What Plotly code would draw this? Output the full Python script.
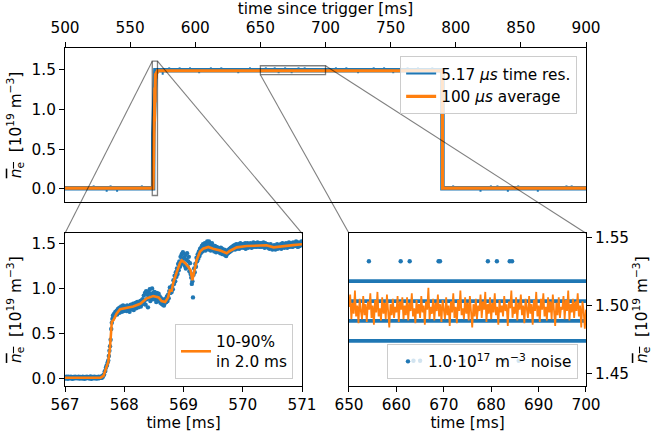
import numpy as np
import plotly.graph_objects as go

BLUE = "#1f77b4"
ORANGE = "#ff7f0e"
FONT = "DejaVu Sans"
FS = 15.3

# ---------------- data ----------------
# 100 us average during the density rise (ms, 1e19 m^-3)
rise_avg_t = [567.00, 567.60, 567.65, 567.70, 567.73, 567.76, 567.79, 567.82, 567.87, 567.93,
              568.04, 568.15, 568.27, 568.38, 568.49, 568.58, 568.63, 568.69, 568.74, 568.77,
              568.80, 568.83, 568.88, 568.94, 568.97, 569.03, 569.08, 569.12, 569.15, 569.18,
              569.22, 569.28, 569.33, 569.42, 569.50, 569.62, 569.73, 569.78, 569.90, 570.07,
              570.29, 570.40, 570.52, 570.68, 570.85, 571.00]
rise_avg_v = [0.010, 0.010, 0.030, 0.130, 0.185, 0.350, 0.630, 0.650, 0.720, 0.770,
              0.785, 0.800, 0.830, 0.890, 0.915, 0.900, 0.860, 0.850, 0.900, 0.980,
              0.975, 1.070, 1.170, 1.280, 1.310, 1.280, 1.240, 1.200, 1.090, 1.190,
              1.310, 1.410, 1.440, 1.460, 1.440, 1.420, 1.390, 1.415, 1.455, 1.470,
              1.480, 1.478, 1.455, 1.470, 1.480, 1.490]

# raw 5.17 us samples during the rise (read every 0.01 ms, 567.00 ... 571.00)
rise_raw_v = [
    0.017, 0.0, 0.014, 0.022, 0.005, -0.002, 0.02, 0.008, 0.016, 0.002,
    0.021, 0.004, 0.011, -0.001, 0.018, 0.012, 0.003, 0.022, 0.006, 0.015,
    0.019, 0.002, 0.012, 0.02, 0.007, 0.0, 0.018, 0.01, 0.015, 0.001,
    0.022, 0.006, 0.013, -0.002, 0.017, 0.011, 0.004, 0.021, 0.008, 0.014,
    0.016, 0.001, 0.013, 0.023, 0.004, -0.001, 0.019, 0.009, 0.017, 0.003,
    0.02, 0.005, 0.012, 0.0, 0.019, 0.013, 0.002, 0.021, 0.007, 0.016,
    0.012,
    0.02, 0.008, 0.03, 0.02, 0.04, 0.045, 0.08, 0.085, 0.12, 0.14,
    0.15, 0.18, 0.2, 0.25, 0.31, 0.36, 0.43, 0.55, 0.62, 0.66,
    0.70, 0.68, 0.72, 0.70, 0.74, 0.73, 0.75, 0.71, 0.77, 0.74,
    0.78, 0.73, 0.79, 0.76, 0.80, 0.74, 0.77, 0.81, 0.75, 0.79,
    0.76, 0.80, 0.77, 0.75, 0.81, 0.78, 0.76, 0.80, 0.74, 0.79,
    0.82, 0.77, 0.80, 0.78, 0.83, 0.76, 0.81, 0.79, 0.84, 0.78,
    0.80, 0.85, 0.82, 0.79, 0.84, 0.81, 0.86, 0.80, 0.83, 0.87,
    0.88, 0.83, 0.92, 0.86, 0.95, 0.82, 0.97, 0.88, 0.93, 0.79,
    0.96, 0.90, 0.99, 0.86, 0.94, 0.91, 1.00, 0.88, 0.95, 0.92,
    0.96, 0.88, 0.93, 0.85, 0.95, 0.90, 0.87, 0.94, 0.86, 0.91,
    0.84, 0.89, 0.83, 0.87, 0.82, 0.86, 0.81, 0.88, 0.84, 0.87,
    0.85, 0.91, 0.86, 0.93, 0.89, 0.97, 1.01, 0.95, 1.00, 0.96,
    1.03, 0.99, 1.09, 1.05, 1.14, 1.08, 1.18, 1.13, 1.22, 1.16,
    1.27, 1.20, 1.30, 1.24, 1.35, 1.27, 1.38, 1.33, 1.40, 1.29,
    1.34, 1.25, 1.37, 1.22, 1.32, 1.39, 1.24, 1.30, 1.35, 1.19,
    1.28, 1.16, 1.12, 1.05, 1.08, 0.90, 1.15, 1.22, 1.18, 1.27,
    1.24, 1.34, 1.30, 1.38, 1.33, 1.41, 1.36, 1.44, 1.39, 1.45,
    1.47, 1.41, 1.49, 1.43, 1.46, 1.50, 1.42, 1.48, 1.44, 1.52,
    1.48, 1.43, 1.52, 1.46, 1.49, 1.42, 1.47, 1.50, 1.43, 1.46,
    1.46, 1.41, 1.47, 1.44, 1.40, 1.46, 1.42, 1.45, 1.41, 1.44,
    1.43, 1.39, 1.45, 1.41, 1.44, 1.38, 1.42, 1.40, 1.43, 1.37,
    1.41, 1.36, 1.38, 1.42, 1.39, 1.43, 1.40, 1.44, 1.41, 1.45,
    1.42, 1.46, 1.43, 1.47, 1.44, 1.48, 1.43, 1.46, 1.49, 1.44,
    1.48, 1.45, 1.49, 1.44, 1.47, 1.50, 1.45, 1.48, 1.46, 1.49,
    1.45, 1.49, 1.47, 1.50, 1.44, 1.48, 1.46, 1.50, 1.45, 1.48,
    1.49, 1.46, 1.50, 1.47, 1.45, 1.49, 1.48, 1.51, 1.46, 1.49,
    1.47, 1.50, 1.46, 1.49, 1.51, 1.47, 1.49, 1.46, 1.50, 1.48,
    1.50, 1.46, 1.49, 1.47, 1.51, 1.48, 1.45, 1.50, 1.47, 1.49,
    1.46, 1.49, 1.45, 1.48, 1.44, 1.47, 1.49, 1.45, 1.46, 1.43,
    1.47, 1.44, 1.48, 1.45, 1.43, 1.47, 1.46, 1.49, 1.44, 1.47,
    1.45, 1.48, 1.46, 1.49, 1.44, 1.47, 1.50, 1.46, 1.48, 1.45,
    1.49, 1.46, 1.50, 1.47, 1.45, 1.49, 1.48, 1.51, 1.46, 1.48,
    1.50, 1.47, 1.49, 1.46, 1.51, 1.48, 1.50, 1.47, 1.49, 1.52,
    1.48, 1.50, 1.46, 1.51, 1.49, 1.47, 1.50, 1.48, 1.52, 1.49,
]

# full discharge: plateau / termination of the 100 us average
end_avg_t = [789.7, 789.9, 900.0]
end_avg_v = [1.490, 0.010, 0.010]

# full discharge: raw signal envelope centre and isolated excursions
raw_band_t = [500.0, 567.65, 567.80, 569.40, 789.80, 789.80, 900.0]
raw_band_v = [0.008, 0.008, 0.700, 1.498, 1.498, 0.008, 0.008]
spike_t = [522, 532, 535, 540, 559,
           575, 580, 588, 596, 603, 612, 620, 633, 642, 654.2, 661, 664, 669, 674,
           679.3, 684, 708, 716, 725, 737, 745, 752, 763, 771, 782,
           798, 819, 827, 832, 840, 848, 863, 885, 889]
spike_v = [0.045, -0.035, 0.045, -0.035, 0.045,
           1.440, 1.533, 1.533, 1.533, 1.459, 1.533, 1.533, 1.459, 1.533, 1.533, 1.533, 1.459, 1.533, 1.459,
           1.533, 1.533, 1.533, 1.533, 1.459, 1.533, 1.533, 1.459, 1.533, 1.533, 1.533,
           0.045, -0.035, 0.045, 0.045, -0.035, 0.045, -0.035, 0.045, 0.045]

# flat top: 100 us average (every 0.25 ms, 650 ... 700)
flat_avg_v = [
    1.499, 1.508, 1.490, 1.502, 1.494, 1.511, 1.492, 1.500, 1.487, 1.505,
    1.496, 1.490, 1.507, 1.493, 1.501, 1.488, 1.503, 1.497, 1.509, 1.491,
    1.500, 1.486, 1.504, 1.495, 1.510, 1.492, 1.498, 1.489, 1.506, 1.494,
    1.502, 1.490, 1.508, 1.496, 1.484, 1.501, 1.493, 1.505, 1.491, 1.499,
    1.495, 1.507, 1.488, 1.503, 1.497, 1.506, 1.490, 1.500, 1.493, 1.506,
    1.489, 1.502, 1.496, 1.509, 1.492, 1.498, 1.487, 1.504, 1.494, 1.501,
    1.491, 1.507, 1.495, 1.500, 1.486, 1.503, 1.497, 1.513, 1.490, 1.499,
    1.494, 1.505, 1.489, 1.502, 1.496, 1.508, 1.492, 1.501, 1.488, 1.504,
    1.497, 1.490, 1.506, 1.493, 1.500, 1.485, 1.503, 1.495, 1.509, 1.491,
    1.499, 1.487, 1.504, 1.496, 1.511, 1.493, 1.498, 1.490, 1.506, 1.494,
    1.502, 1.489, 1.507, 1.495, 1.484, 1.501, 1.492, 1.505, 1.490, 1.500,
    1.496, 1.508, 1.491, 1.503, 1.497, 1.510, 1.488, 1.501, 1.494, 1.506,
    1.490, 1.502, 1.495, 1.509, 1.493, 1.499, 1.486, 1.504, 1.495, 1.500,
    1.492, 1.507, 1.496, 1.501, 1.485, 1.503, 1.498, 1.511, 1.491, 1.499,
    1.494, 1.506, 1.489, 1.502, 1.497, 1.508, 1.493, 1.500, 1.487, 1.505,
    1.498, 1.491, 1.507, 1.494, 1.501, 1.486, 1.504, 1.496, 1.510, 1.492,
    1.500, 1.488, 1.505, 1.497, 1.509, 1.492, 1.499, 1.489, 1.506, 1.495,
    1.503, 1.490, 1.508, 1.494, 1.485, 1.502, 1.493, 1.506, 1.491, 1.499,
    1.497, 1.507, 1.490, 1.504, 1.496, 1.511, 1.489, 1.501, 1.495, 1.505,
    1.491, 1.503, 1.496, 1.509, 1.492, 1.500, 1.484, 1.503, 1.496, 1.483,
    1.497,
]
# flat top: raw signal digitiser levels and isolated samples
noise_levels = [1.4741, 1.4887, 1.5033, 1.5179]
outlier_t = [654.2, 660.9, 662.8, 668.9, 669.2, 679.3, 681.2, 683.9, 684.4,
             663.6, 665.0, 674.1, 682.6, 685.8]
outlier_v = [1.5325] * 9 + [1.4595] * 5

# ---------------- layout geometry ----------------
X1R, Y1R = [500, 900], [-0.164, 1.777]
X2R, Y2R = [567, 571], [-0.082, 1.611]
X3R, Y3R = [650, 700], [1.441, 1.553]
XD1, YD1 = [0.0, 1.0], [0.5444, 1.0]
XD2, YD2 = [0.0, 0.4549], [0.0, 0.4518]
XD3, YD3 = [0.5451, 1.0], [0.0, 0.4518]


def to_paper(x, y, xr, yr, xd, yd):
    px = xd[0] + (x - xr[0]) / (xr[1] - xr[0]) * (xd[1] - xd[0])
    py = yd[0] + (y - yr[0]) / (yr[1] - yr[0]) * (yd[1] - yd[0])
    return px, py


fig = go.Figure()

# ---- top panel ----
fig.add_trace(go.Scatter(x=raw_band_t, y=raw_band_v, mode="lines",
                         line=dict(color=BLUE, width=4.5), showlegend=False,
                         xaxis="x", yaxis="y", hoverinfo="skip"))
band_base = np.interp(spike_t, raw_band_t, raw_band_v)
sx, sy = [], []
for t, b, v in zip(spike_t, band_base, spike_v):
    sx += [t, t, None]
    sy += [b, v, None]
fig.add_trace(go.Scatter(x=sx, y=sy, mode="lines", line=dict(color=BLUE, width=2.0),
                         name="5.17 <i>μs</i> time res.", xaxis="x", yaxis="y",
                         legend="legend"))
top_t = [500.0] + rise_avg_t + end_avg_t
top_v = [0.010] + rise_avg_v + end_avg_v
fig.add_trace(go.Scatter(x=top_t, y=top_v, mode="lines",
                         line=dict(color=ORANGE, width=3.2),
                         name="100 <i>μs</i> average", xaxis="x", yaxis="y",
                         legend="legend"))

# ---- bottom-left inset ----
rise_raw_t = np.linspace(X2R[0], X2R[1], len(rise_raw_v))
fig.add_trace(go.Scatter(x=rise_raw_t, y=rise_raw_v, mode="markers",
                         marker=dict(color=BLUE, size=4.4, line=dict(width=0)),
                         showlegend=False, xaxis="x2", yaxis="y2"))
fig.add_trace(go.Scatter(x=rise_avg_t, y=rise_avg_v, mode="lines",
                         line=dict(color=ORANGE, width=2.6),
                         name="10-90%<br>in 2.0 ms", xaxis="x2", yaxis="y2",
                         legend="legend2"))

# ---- bottom-right inset ----
lx, ly = [], []
for lv in noise_levels:
    lx += [X3R[0] - 1, X3R[1] + 1, None]
    ly += [lv, lv, None]
fig.add_trace(go.Scatter(x=lx, y=ly, mode="lines", line=dict(color=BLUE, width=3.8),
                         showlegend=False, xaxis="x3", yaxis="y3", hoverinfo="skip"))
fig.add_trace(go.Scatter(x=outlier_t, y=outlier_v, mode="markers",
                         marker=dict(color=BLUE, size=4.4, line=dict(width=0)),
                         name="1.0·10<sup>17</sup> m<sup>−3</sup> noise",
                         xaxis="x3", yaxis="y3", legend="legend3"))
flat_t = np.linspace(X3R[0], X3R[1], len(flat_avg_v))
fig.add_trace(go.Scatter(x=flat_t, y=flat_avg_v, mode="lines",
                         line=dict(color=ORANGE, width=1.8), showlegend=False,
                         xaxis="x3", yaxis="y3"))

# ---- zoom indicators and connectors ----
GRAY = "rgba(0,0,0,0.5)"
shapes = []
for xr, yr in [(X2R, Y2R), (X3R, Y3R)]:
    shapes.append(dict(type="rect", xref="x", yref="y", x0=xr[0], x1=xr[1],
                       y0=yr[0], y1=yr[1], line=dict(color=GRAY, width=1.3),
                       fillcolor="rgba(0,0,0,0)", layer="above"))
conn = [
    ((X2R[0], Y2R[1]), (XD2[0], YD2[1])),
    ((X2R[1], Y2R[1]), (XD2[1], YD2[1])),
    ((X3R[0], Y3R[0]), (XD3[0], YD3[1])),
    ((X3R[1], Y3R[1]), (XD3[1], YD3[1])),
]
for (dx, dy), (qx, qy) in conn:
    px, py = to_paper(dx, dy, X1R, Y1R, XD1, YD1)
    shapes.append(dict(type="line", xref="paper", yref="paper", x0=px, y0=py,
                       x1=qx, y1=qy, line=dict(color=GRAY, width=1.1), layer="above"))

ylab = ("<span style='text-decoration:overline'><i>n</i><sub>e</sub></span>"
        "  [10<sup>19</sup> m<sup>−3</sup>]")

axis_common = dict(showline=True, mirror=True, linecolor="black", linewidth=1,
                   ticks="outside", ticklen=5, tickwidth=1, tickcolor="black",
                   showgrid=False, zeroline=False, automargin=False,
                   tickfont=dict(family=FONT, size=FS, color="black"))

legend_common = dict(bgcolor="rgba(255,255,255,0.8)", bordercolor="#cccccc",
                     borderwidth=1, font=dict(family=FONT, size=FS, color="black"))

fig.update_layout(
    width=653, height=443,
    margin=dict(l=65, r=67, t=48, b=57),
    paper_bgcolor="white", plot_bgcolor="white",
    font=dict(family=FONT, size=FS, color="black"),
    shapes=shapes,
    xaxis=dict(axis_common, domain=XD1, range=X1R, side="top", anchor="y",
               tickvals=list(range(500, 901, 50)), ticklabelstandoff=3,
               title=dict(text="time since trigger [ms]", standoff=0,
                          font=dict(family=FONT, size=FS))),
    yaxis=dict(axis_common, domain=YD1, range=Y1R, anchor="x",
               tickvals=[0, 0.5, 1.0, 1.5], tickformat=".1f",
               title=dict(text=ylab, standoff=6, font=dict(family=FONT, size=FS))),
    xaxis2=dict(axis_common, domain=XD2, range=X2R, anchor="y2",
                tickvals=[567, 568, 569, 570, 571],
                title=dict(text="time [ms]", standoff=2, font=dict(family=FONT, size=FS))),
    yaxis2=dict(axis_common, domain=YD2, range=Y2R, anchor="x2",
                tickvals=[0, 0.5, 1.0, 1.5], tickformat=".1f",
                title=dict(text=ylab, standoff=6, font=dict(family=FONT, size=FS))),
    xaxis3=dict(axis_common, domain=XD3, range=X3R, anchor="y3",
                tickvals=[650, 660, 670, 680, 690, 700],
                title=dict(text="time [ms]", standoff=2, font=dict(family=FONT, size=FS))),
    yaxis3=dict(axis_common, domain=YD3, range=Y3R, anchor="x3", side="right",
                tickvals=[1.45, 1.50, 1.55], tickformat=".2f",
                title=dict(text=ylab, standoff=8, font=dict(family=FONT, size=FS))),
    legend=dict(legend_common, x=0.983, y=0.976, xanchor="right", yanchor="top"),
    legend2=dict(legend_common, x=0.4376, y=0.021, xanchor="right", yanchor="bottom"),
    legend3=dict(legend_common, x=0.9846, y=0.021, xanchor="right", yanchor="bottom"),
)

fig.write_html("out.html", config={"displayModeBar": False},
               post_script="document.body.style.margin='0px';"
                           "document.body.style.overflow='hidden';")
